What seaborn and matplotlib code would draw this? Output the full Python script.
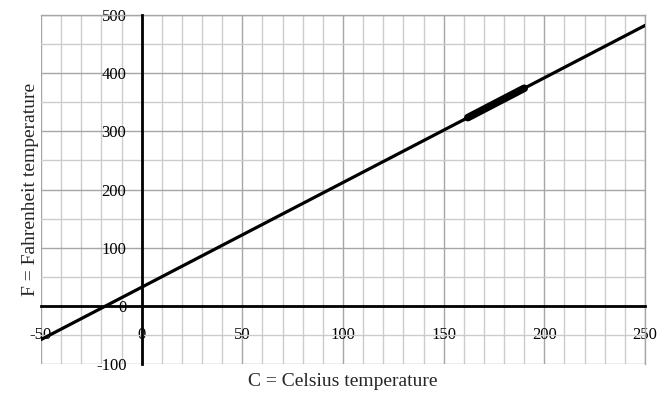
import numpy as np
import pandas as pd
import matplotlib
matplotlib.use("Agg")
import matplotlib.pyplot as plt
import seaborn as sns

# line F = 1.8*C + 32, end points
celsius = [-50, 250]
fahrenheit = [-58, 482]

# thick highlighted piece of the line
hi_celsius = [162, 190]
hi_fahrenheit = [323.6, 374]

x_major = [-50, 0, 50, 100, 150, 200, 250]
x_minor = list(range(-50, 251, 10))
y_major = [-100, 0, 100, 200, 300, 400, 500]
y_minor = list(range(-100, 501, 50))

sns.set_style("white")
plt.rcParams['font.family'] = ['Liberation Serif', 'DejaVu Serif']

fig = plt.figure(figsize=(6.64, 4.0), dpi=100)
ax = fig.add_axes([41/664, 1 - 364/400, 604/664, 349/400])

df = pd.DataFrame({"C": celsius, "F": fahrenheit})
df_hi = pd.DataFrame({"C": hi_celsius, "F": hi_fahrenheit})
sns.lineplot(data=df, x="C", y="F", ax=ax, color="black", lw=2.3, zorder=5)
sns.lineplot(data=df_hi, x="C", y="F", ax=ax, color="black", lw=5.5,
             solid_capstyle="round", zorder=6)

ax.set_xlim(-50, 250)
ax.set_ylim(-100, 500)
ax.set_xticks(x_major)
ax.set_xticks(x_minor, minor=True)
ax.set_yticks(y_major)
ax.set_yticks(y_minor, minor=True)
ax.set_xticklabels([str(v) for v in x_major])
ax.set_yticklabels([str(v) for v in y_major])

ax.grid(which="minor", color="#cccccc", lw=1.0, zorder=0)
ax.grid(which="major", color="#a6a6a6", lw=1.0, zorder=0)
ax.set_axisbelow(True)

ax.spines['left'].set_position(('data', 0))
ax.spines['bottom'].set_position(('data', 0))
for s in ['left', 'bottom']:
    ax.spines[s].set_color("black")
    ax.spines[s].set_linewidth(2.0)
    ax.spines[s].set_zorder(4)
for s in ['top', 'right']:
    ax.spines[s].set_color("#a6a6a6")
    ax.spines[s].set_linewidth(1.0)

ax.tick_params(axis='x', which='major', direction='out', length=3, width=2,
               pad=12, colors='black', labelsize=12)
ax.tick_params(axis='y', which='major', direction='out', length=3, width=2,
               pad=8, colors='black', labelsize=12)
ax.tick_params(which='minor', length=0)

ax.set_xlabel("")
ax.set_ylabel("")
fig.text(343/664, 1 - 381/400, "C = Celsius temperature", fontsize=14,
         ha='center', va='center')
fig.text(31/664, 1 - 189/400, "F = Fahrenheit temperature", fontsize=14,
         ha='center', va='center', rotation=90)

fig.savefig("out.png", dpi=100)
